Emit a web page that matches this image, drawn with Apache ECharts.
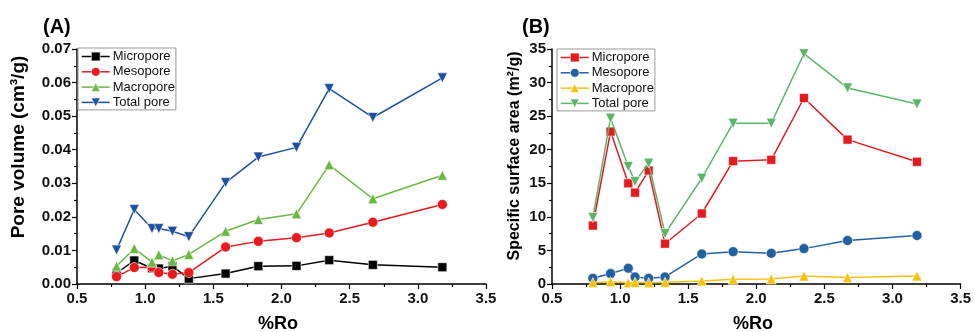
<!DOCTYPE html>
<html>
<head>
<meta charset="utf-8">
<script src="https://cdn.jsdelivr.net/npm/echarts@6/dist/echarts.min.js"></script>
<style>
html,body{margin:0;padding:0;background:#fff;}
#c{width:974px;height:332px;}
</style>
</head>
<body>
<div id="c"></div>
<script>
// ---- Data ----
const roA = [0.79, 0.92, 1.05, 1.10, 1.20, 1.32, 1.59, 1.83, 2.11, 2.35, 2.67, 3.18];
const roB = [0.80, 0.93, 1.06, 1.11, 1.21, 1.33, 1.60, 1.83, 2.11, 2.35, 2.67, 3.18];

const microVol = [0.0032, 0.0070, 0.0047, 0.0046, 0.0053, 0.0016, 0.0031, 0.0053, 0.0054, 0.0071, 0.0057, 0.0050];
const mesoVol  = [0.0022, 0.0049, 0.0050, 0.0034, 0.0029, 0.0034, 0.0110, 0.0127, 0.0138, 0.0152, 0.0184, 0.0237];
const macroVol = [0.0053, 0.0106, 0.0065, 0.0087, 0.0069, 0.0088, 0.0157, 0.0192, 0.0209, 0.0355, 0.0254, 0.0324];
const totalVol = [0.0101, 0.0222, 0.0165, 0.0165, 0.0157, 0.0141, 0.0302, 0.0378, 0.0407, 0.0582, 0.0496, 0.0614];

const microSA = [8.7, 22.7, 15.0, 13.6, 16.9, 6.0, 10.5, 18.3, 18.5, 27.7, 21.5, 18.2];
const mesoSA  = [0.85, 1.55, 2.35, 1.05, 0.85, 1.05, 4.47, 4.82, 4.57, 5.27, 6.47, 7.22];
const macroSA = [0.2, 0.35, 0.2, 0.25, 0.2, 0.25, 0.45, 0.7, 0.75, 1.2, 0.95, 1.2];
const totalSA = [9.9, 24.7, 17.5, 15.25, 18.0, 7.5, 15.75, 23.95, 23.95, 34.3, 29.2, 26.8];

const seriesNames = ['Micropore', 'Mesopore', 'Macropore', 'Total pore'];
const xTicks = [0.5, 1.0, 1.5, 2.0, 2.5, 3.0, 3.5];
const panelLabels = ['(A)', '(B)'];
const xName = '%Ro';
const yNameA = 'Pore volume (cm³/g)';
const yNameB = 'Specific surface area (m²/g)';

const colorsA = ['#000000', '#e8191f', '#6cb645', '#1f4f9f'];
const colorsB = ['#e31a20', '#2460a0', '#f4c20d', '#5cb46a'];
const symbols = ['rect', 'circle', 'triangle', 'triangle'];
const rotates = [0, 0, 0, 180];
const sizes = [9, 10, 10, 10];

// ---- Build ----
const FONT = '"Liberation Sans", Arial, sans-serif';
function pairs(xs, ys){ return xs.map((x,i)=>[x, ys[i]]); }

function xAxisCfg(idx){
  return {
    gridIndex: idx, type: 'value', min: xTicks[0], max: xTicks[xTicks.length-1], interval: 0.5,
    axisLine: {show: true, onZero: false, lineStyle: {color: '#000', width: 1.5}},
    axisTick: {show: true, inside: false, length: 5, lineStyle: {color: '#000', width: 1.2}},
    minorTick: {show: true, splitNumber: 2, length: 3, lineStyle: {color: '#000', width: 1.2}},
    splitLine: {show: false},
    axisLabel: {color: '#111', fontFamily: FONT, fontWeight: 'bold', fontSize: 15, margin: 7,
      formatter: v => v.toFixed(1)}
  };
}
function yAxisCfg(idx, max, interval, dec){
  return {
    gridIndex: idx, type: 'value', min: 0, max: max, interval: interval,
    axisLine: {show: true, onZero: false, lineStyle: {color: '#000', width: 1.5}},
    axisTick: {show: true, inside: false, length: 5, lineStyle: {color: '#000', width: 1.2}},
    minorTick: {show: true, splitNumber: 2, length: 3, lineStyle: {color: '#000', width: 1.2}},
    splitLine: {show: false},
    axisLabel: {color: '#111', fontFamily: FONT, fontWeight: 'bold', fontSize: 15, margin: 6,
      formatter: v => v.toFixed(dec)}
  };
}
function mkSeries(name, xs, ys, k, colors, gi){
  return {
    name: name, type: 'line', xAxisIndex: gi, yAxisIndex: gi,
    data: pairs(xs, ys),
    symbol: symbols[k], symbolRotate: rotates[k], symbolSize: sizes[k],
    showAllSymbol: true,
    lineStyle: {color: colors[k], width: 1.5},
    itemStyle: {color: colors[k], borderColor: '#fff', borderWidth: 0.6},
    emphasis: {disabled: true},
    animation: false, z: 2 + k
  };
}

const setA = [microVol, mesoVol, macroVol, totalVol];
const setB = [microSA, mesoSA, macroSA, totalSA];
const series = [];
seriesNames.forEach((n,k)=> series.push(mkSeries(n, roA, setA[k], k, colorsA, 0)));
seriesNames.forEach((n,k)=> series.push(mkSeries(n, roB, setB[k], k, colorsB, 1)));

function legendCfg(left, top, colors){
  return {
    show: true, orient: 'vertical', left: left, top: top,
    data: seriesNames.map((n,k)=>({name:n,
      itemStyle:{color: colors[k], borderColor:'#fff', borderWidth:0.6},
      lineStyle:{color: colors[k], width:1.5}})),
    itemWidth: 28, itemHeight: 11, itemGap: 2.3,
    padding: [2, 1, 1, 3],
    borderColor: '#999', borderWidth: 1,
    textStyle: {fontFamily: FONT, fontSize: 13, color: '#111', padding: [0,0,0,-2], lineHeight: 13},
    selectedMode: false
  };
}

const chart = echarts.init(document.getElementById('c'), null, {renderer: 'canvas'});
const option = {
  backgroundColor: '#fff',
  animation: false,
  grid: [
    {left: 77, top: 49, width: 409, height: 235},
    {left: 552, top: 49, width: 410, height: 235}
  ],
  xAxis: [xAxisCfg(0), xAxisCfg(1)],
  yAxis: [yAxisCfg(0, 0.07, 0.01, 2), yAxisCfg(1, 35, 5, 0)],
  legend: [legendCfg(78, 48, colorsA), legendCfg(557, 49, colorsB)],
  series: series,
  graphic: [
    {type:'text', left: 43, top: 17, style:{text: panelLabels[0], font: 'bold 20px ' + FONT, fill:'#000'}},
    {type:'text', left: 522, top: 17, style:{text: panelLabels[1], font: 'bold 20px ' + FONT, fill:'#000'}},
    {type:'text', x: 19, y: 147, rotation: Math.PI/2,
      style:{text: yNameA, font: 'bold 19px ' + FONT, fill:'#000', align:'center', verticalAlign:'middle'}},
    {type:'text', x: 515, y: 156, rotation: Math.PI/2,
      style:{text: yNameB, font: 'bold 16px ' + FONT, fill:'#000', align:'center', verticalAlign:'middle'}},
    {type:'text', x: 278, y: 324,
      style:{text: xName, font: 'bold 18px ' + FONT, fill:'#000', align:'center', verticalAlign:'middle'}},
    {type:'text', x: 753, y: 324,
      style:{text: xName, font: 'bold 18px ' + FONT, fill:'#000', align:'center', verticalAlign:'middle'}}
  ]
};
chart.setOption(option);
</script>
</body>
</html>
